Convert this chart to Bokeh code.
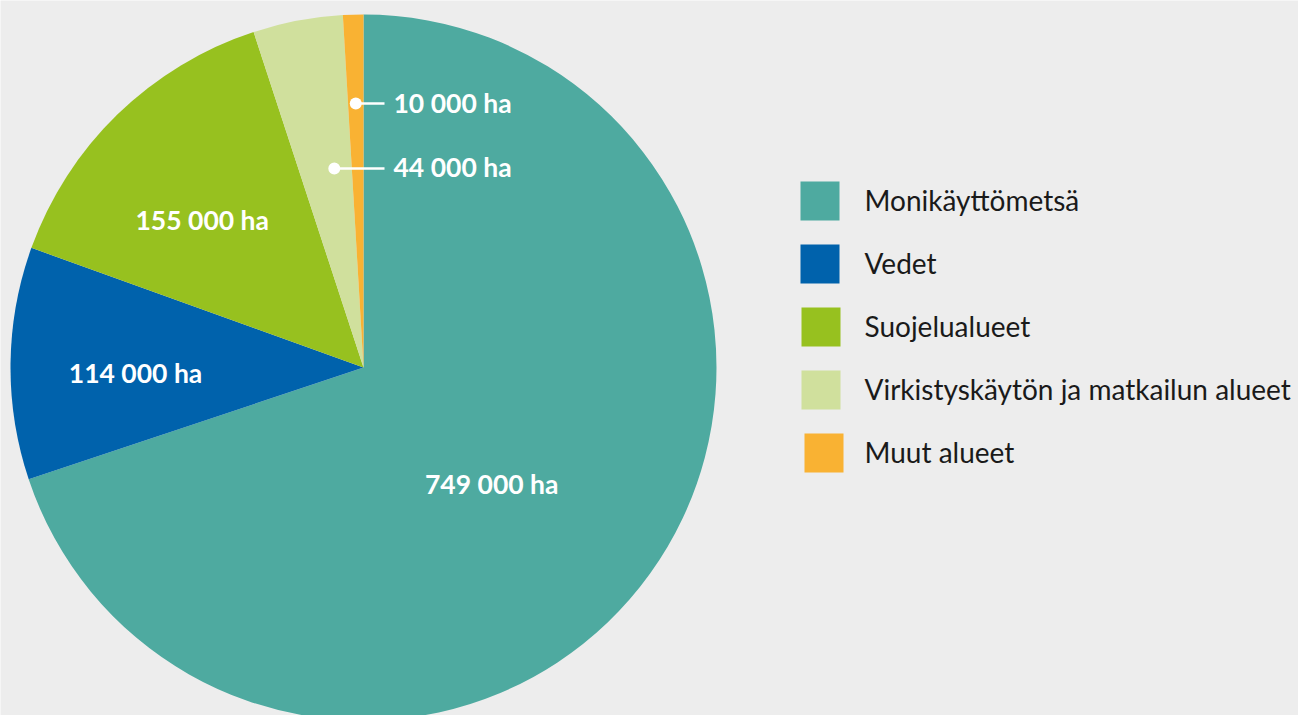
import numpy as np
from bokeh.plotting import figure
from bokeh.models import Range1d, ColumnDataSource
from bokeh.core.properties import value
from bokeh.embed import file_html
from bokeh.resources import INLINE

categories = ["Monikäyttömetsä", "Vedet", "Suojelualueet",
              "Virkistyskäytön ja matkailun alueet", "Muut alueet"]
areas_ha = [749000, 114000, 155000, 44000, 10000]
labels = ["749 000 ha", "114 000 ha", "155 000 ha", "44 000 ha", "10 000 ha"]
colors = ["#4EAAA0", "#0062AC", "#97C11F", "#D0E09D", "#F9B233"]

W, H = 1298, 715
BG = "#EDEDED"
p = figure(width=W, height=H, x_range=Range1d(0, W), y_range=Range1d(0, H),
           output_backend="svg", toolbar_location=None, min_border=0,
           background_fill_color=BG, border_fill_color=BG, outline_line_color=None)
p.axis.visible = False
p.grid.visible = False

cx, cy, R = 363, H - 367, 353
vals = np.array(areas_ha, dtype=float)
frac = vals / vals.sum()
cum = np.concatenate([[0], np.cumsum(frac)])
start = np.pi / 2 - cum[:-1] * 2 * np.pi
end = np.pi / 2 - cum[1:] * 2 * np.pi
mid = (start + end) / 2

src = ColumnDataSource(dict(start=start, end=end, color=colors))
p.wedge(x=cx, y=cy, radius=R, start_angle="start", end_angle="end",
        direction="clock", fill_color="color", line_color=None, source=src)

# inside labels for the three large slices (radius fraction, angle offset in deg)
lab_pos = [(0.49, -6.4), (0.646, 2.0), (0.62, 3.3)]
big_x, big_y, big_t = [], [], []
for i in range(3):
    rf, off = lab_pos[i]
    a = mid[i] + np.deg2rad(off)
    big_x.append(cx + rf * R * np.cos(a))
    big_y.append(cy + rf * R * np.sin(a))
    big_t.append(labels[i])
p.text(x=big_x, y=big_y, text=big_t, text_color="white",
       text_font=value("Lato"), text_font_style="bold", text_font_size="26.5px",
       text_align="center", text_baseline="middle")

# leader labels for the small slices
dot_pos = {3: (0.57, -2.4), 4: (0.748, 0.0)}
for i in [3, 4]:
    rf, off = dot_pos[i]
    a = mid[i] + np.deg2rad(off)
    dx = cx + rf * R * np.cos(a)
    dy = cy + rf * R * np.sin(a)
    p.line(x=[dx, cx + 21], y=[dy, dy], line_color="white", line_width=2.5)
    p.scatter(x=[dx], y=[dy], size=12, fill_color="white", line_color=None)
    p.text(x=[cx + 30], y=[dy + 1], text=[labels[i]], text_color="white",
           text_font=value("Lato"), text_font_style="bold", text_font_size="26.5px",
           text_align="left", text_baseline="middle")

# legend
leg_x = [819.5, 819.5, 820.5, 820.5, 823.5]
leg_y = [H - 200.5 - 63 * i for i in range(len(categories))]
p.rect(x=leg_x, y=leg_y, width=39, height=39, fill_color=colors, line_color=None)
p.text(x=[864] * len(categories), y=[y + 1 for y in leg_y], text=categories,
       text_color="#1A1A1A", text_font=value("Lato"), text_font_size="28px",
       text_align="left", text_baseline="middle")

open("out.html", "w").write(file_html(p, INLINE))
